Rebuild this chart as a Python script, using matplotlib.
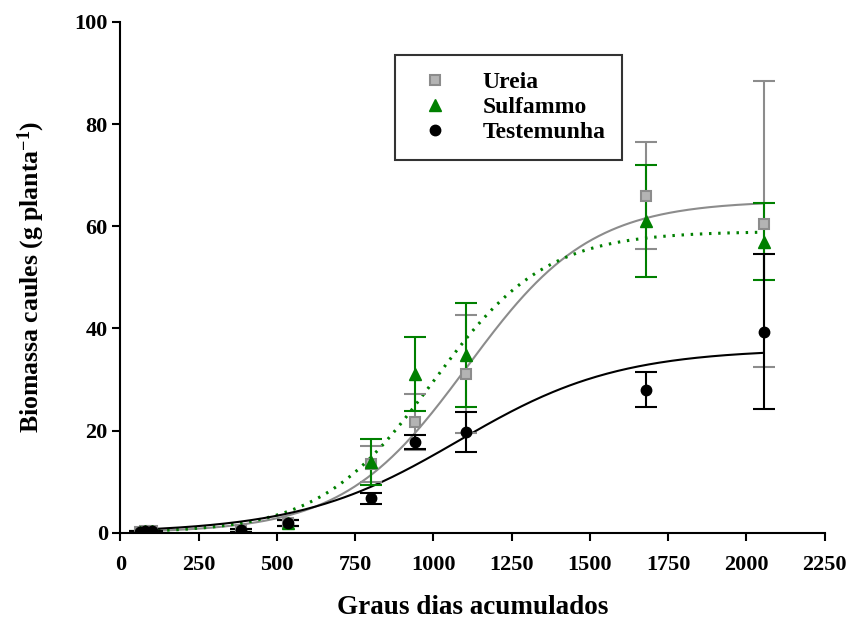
import numpy as np
import matplotlib
matplotlib.use("Agg")
import matplotlib.pyplot as plt

# graus dias acumulados at each sampling
gda = [62, 80, 100, 385, 535, 800, 940, 1105, 1680, 2055]

# biomassa de caules (g planta-1) and standard deviation
ureia = [0.2, 0.3, 0.3, 0.5, 2.0, 13.5, 21.7, 31.1, 66.0, 60.5]
ureia_err = [0.1, 0.1, 0.1, 0.3, 0.6, 3.5, 5.5, 11.6, 10.5, 28.0]
sulfammo = [0.2, 0.3, 0.3, 0.5, 2.0, 13.9, 31.1, 34.8, 61.0, 57.0]
sulfammo_err = [0.1, 0.1, 0.1, 0.3, 0.6, 4.5, 7.2, 10.2, 11.0, 7.6]
testemunha = [0.2, 0.3, 0.3, 0.5, 2.0, 6.8, 17.8, 19.7, 28.0, 39.4]
testemunha_err = [0.1, 0.1, 0.1, 0.3, 0.6, 1.1, 1.4, 3.9, 3.4, 15.1]

# logistic fits: a / (1 + exp(-(x - x0) / b))
fit_ureia = (65.0, 1108.0, 197.5)
fit_sulfammo = (59.0, 998.0, 180.0)
fit_testemunha = (36.0, 1080.0, 255.0)


def logistic(x, a, x0, b):
    return a / (1 + np.exp(-(x - x0) / b))


plt.rcParams['font.family'] = ['Liberation Serif', 'DejaVu Serif']
plt.rcParams['font.weight'] = 'bold'
plt.rcParams['mathtext.fontset'] = 'custom'
plt.rcParams['mathtext.rm'] = 'Liberation Serif:bold'
plt.rcParams['mathtext.bf'] = 'Liberation Serif:bold'
plt.rcParams['mathtext.default'] = 'bf'

fig = plt.figure(figsize=(8.59, 6.24), dpi=100)
ax = fig.add_axes([0.14, 0.146, 0.82, 0.819])

xx = np.linspace(gda[0], gda[-1], 300)
grey = '#8c8c8c'
green = '#008000'

ax.plot(xx, logistic(xx, *fit_ureia), color=grey, lw=1.5)
ax.plot(xx, logistic(xx, *fit_sulfammo), color=green, lw=2.2, ls=(0, (0.8, 2.2)))
ax.plot(xx, logistic(xx, *fit_testemunha), color='black', lw=1.5)

ax.errorbar(gda, ureia, yerr=ureia_err, fmt='s', color=grey, ms=7,
            mfc='#b4b4b4', mec=grey, mew=1.5, capsize=8, elinewidth=1.5,
            capthick=1.5, label='Ureia')
ax.errorbar(gda, sulfammo, yerr=sulfammo_err, fmt='^', color=green, ms=8,
            capsize=8, elinewidth=1.5, capthick=1.5, label='Sulfammo')
ax.errorbar(gda, testemunha, yerr=testemunha_err, fmt='o', color='black', ms=7.5,
            capsize=8, elinewidth=1.5, capthick=1.5, label='Testemunha')

ax.set_xlim(0, 2250)
ax.set_ylim(0, 100)
ax.set_xticks(np.arange(0, 2251, 250))
ax.set_yticks(np.arange(0, 101, 20))
ax.spines['top'].set_visible(False)
ax.spines['right'].set_visible(False)
ax.spines['left'].set_linewidth(1.5)
ax.spines['bottom'].set_linewidth(1.5)
ax.tick_params(direction='out', length=6, width=1.5, labelsize=16)
ax.tick_params(axis='x', pad=10)
ax.tick_params(axis='y', pad=3)

ax.set_xlabel('Graus dias acumulados', fontsize=19.5, fontweight='bold', labelpad=14)
ax.set_ylabel('Biomassa caules (g planta$^{-1}$)', fontsize=18.5,
              fontweight='bold', labelpad=20)

handles, labels = ax.get_legend_handles_labels()
handles = [h[0] for h in handles]
leg = ax.legend(handles, labels, loc='upper left', bbox_to_anchor=(0.39, 0.935),
                fontsize=17, frameon=True, fancybox=False, edgecolor='black',
                borderpad=0.7, handletextpad=1.0, labelspacing=0.15,
                handlelength=2.0, borderaxespad=0)
leg.get_frame().set_linewidth(1.5)

fig.savefig('out.png', dpi=100)
